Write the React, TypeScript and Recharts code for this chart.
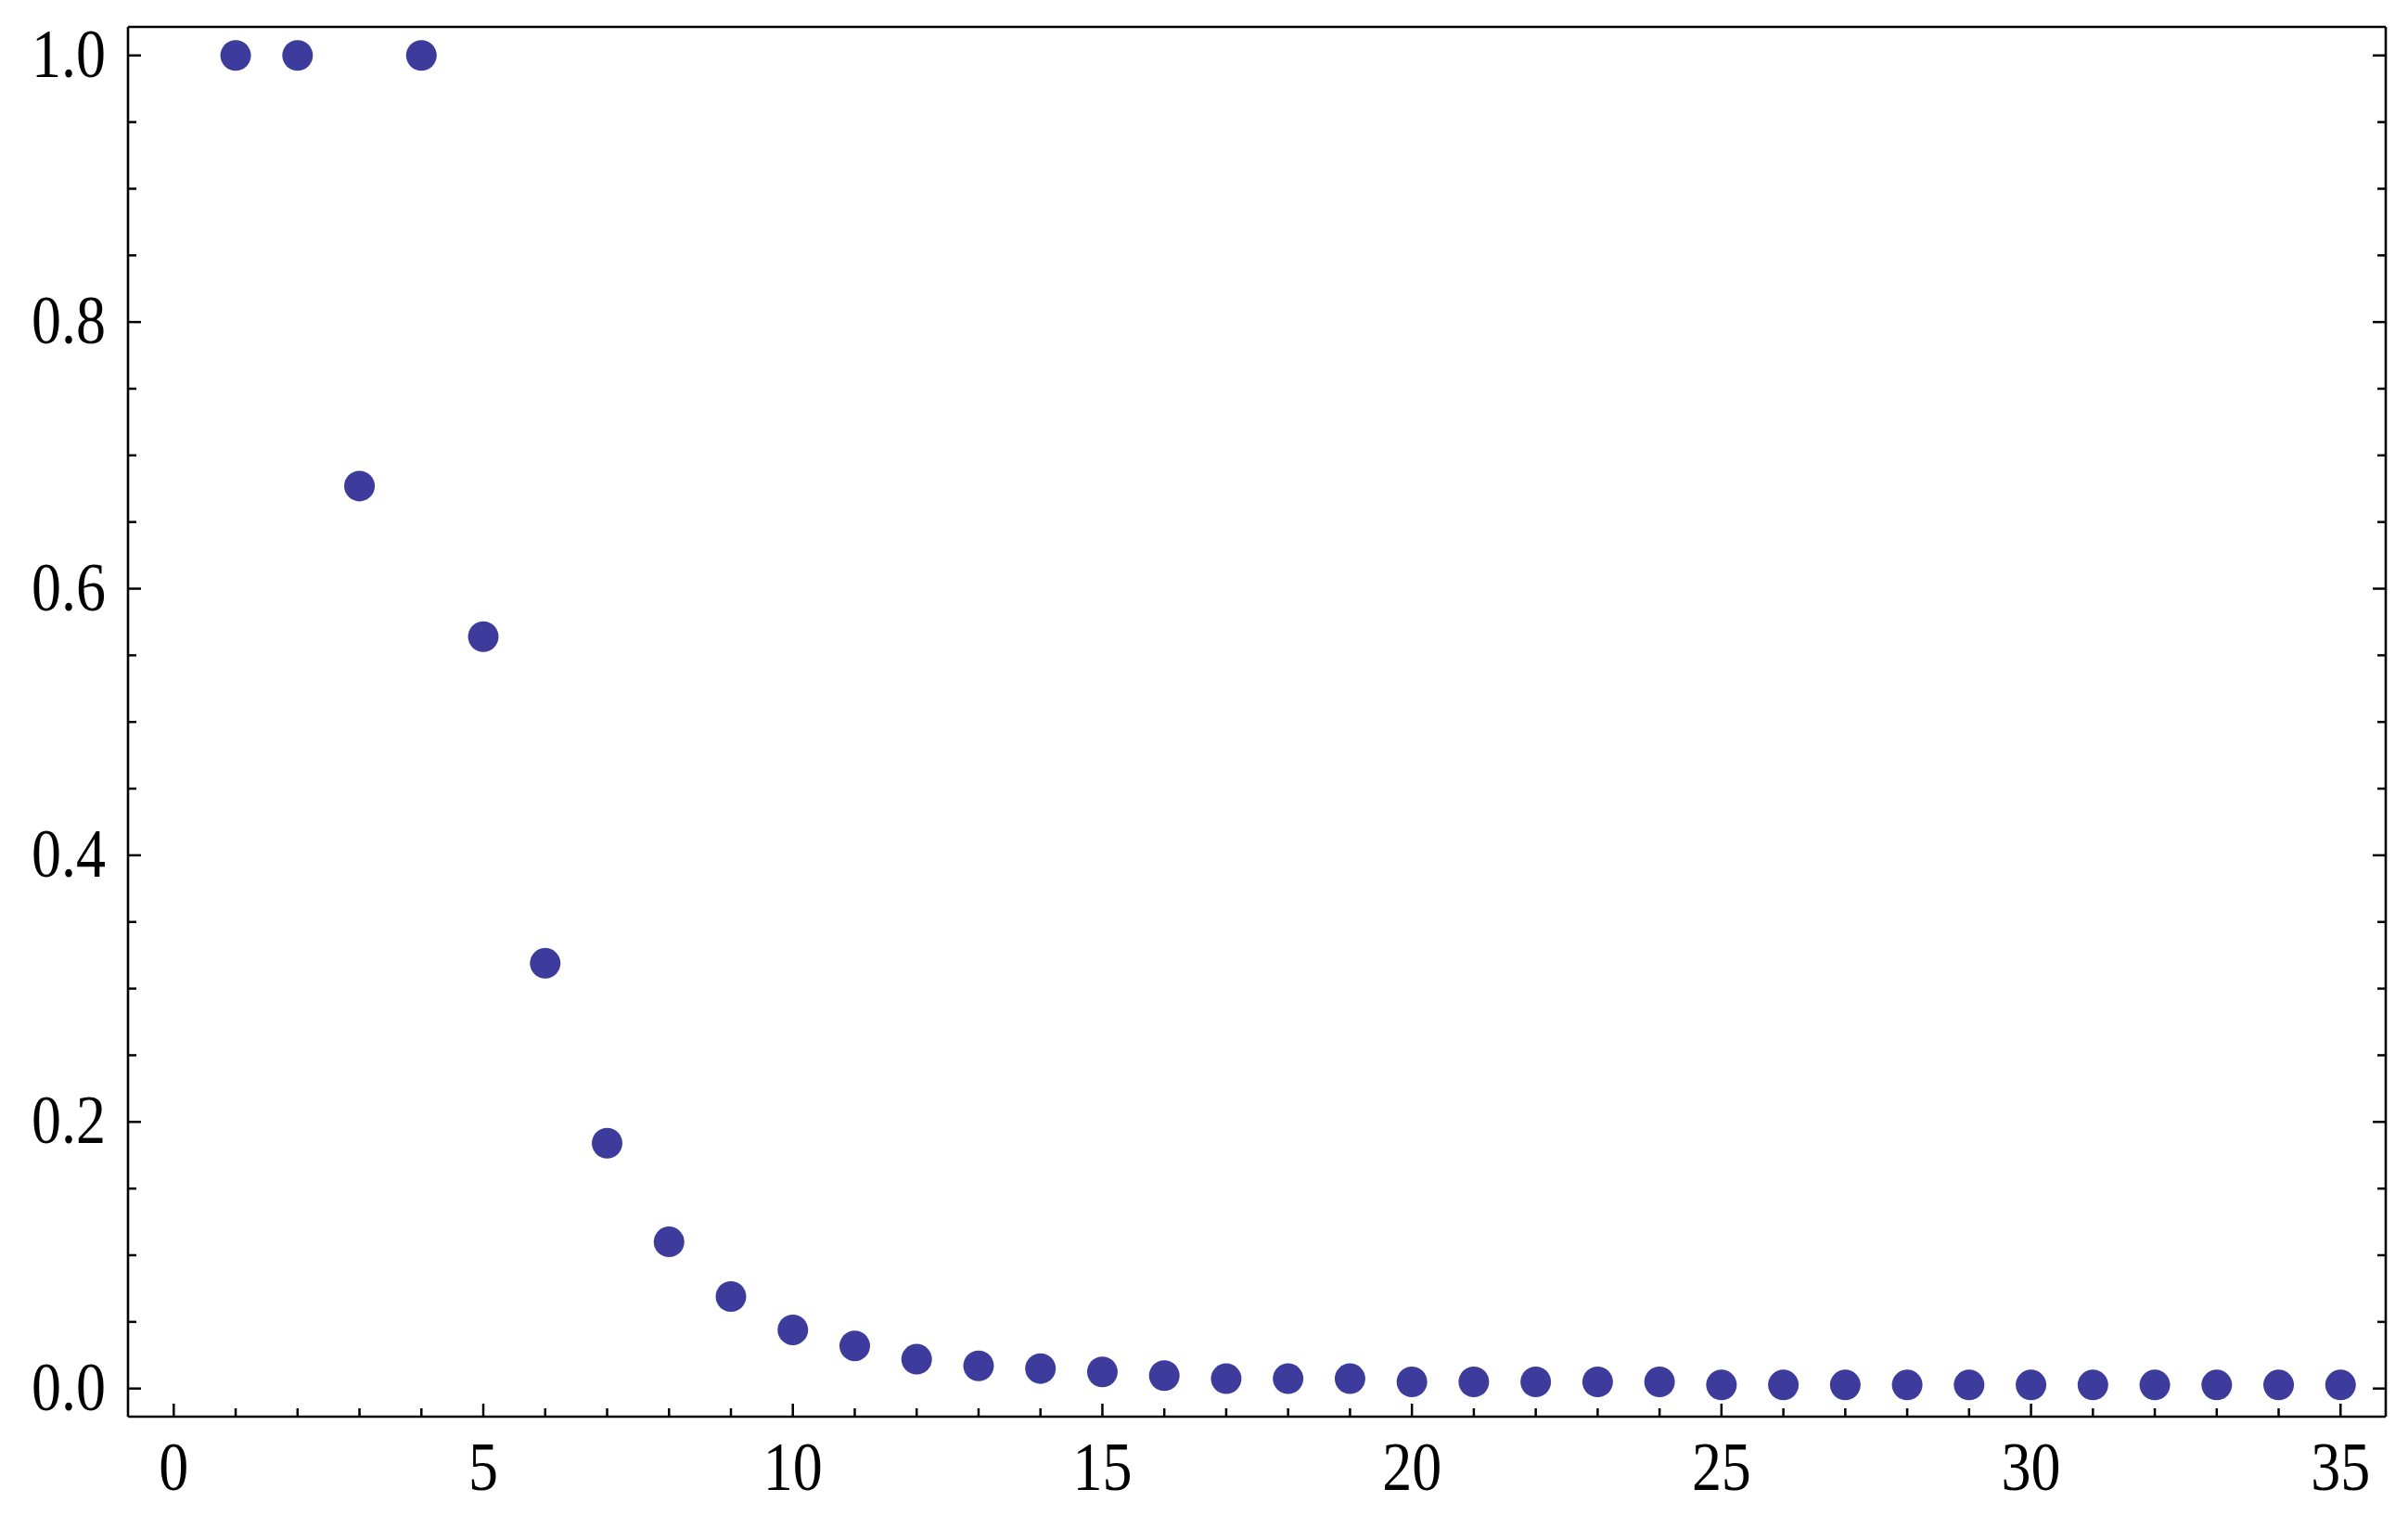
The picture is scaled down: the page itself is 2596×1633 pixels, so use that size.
import {Scatter, ScatterChart, XAxis, YAxis} from 'recharts'

const steps = [1, 2, 3, 4, 5, 6, 7, 8, 9, 10, 11, 12, 13, 14, 15, 16, 17, 18, 19, 20, 21, 22, 23, 24, 25, 26, 27, 28, 29, 30, 31, 32, 33, 34, 35]
const values = [
    1.0, 1.0, 0.677, 1.0, 0.564, 0.319, 0.184, 0.11, 0.069, 0.044,
    0.032, 0.022, 0.017, 0.015, 0.0125, 0.0097, 0.0074, 0.0074, 0.0074, 0.005,
    0.005, 0.005, 0.005, 0.005, 0.0027, 0.0027, 0.0027, 0.0027, 0.0027, 0.0027,
    0.0027, 0.0027, 0.0027, 0.0027, 0.0027,
]
const xTicks = [0, 1, 2, 3, 4, 5, 6, 7, 8, 9, 10, 11, 12, 13, 14, 15, 16, 17, 18, 19, 20, 21, 22, 23, 24, 25, 26, 27, 28, 29, 30, 31, 32, 33, 34, 35]
const yTicks = [0, 0.05, 0.1, 0.15, 0.2, 0.25, 0.3, 0.35, 0.4, 0.45, 0.5, 0.55, 0.6, 0.65, 0.7, 0.75, 0.8, 0.85, 0.9, 0.95, 1.0]

const xDomain: [number, number] = [-0.739, 35.73]
const yDomain: [number, number] = [-0.0211, 1.0214]

const data = steps.map((step, i) => ({x: step, y: values[i]}))

const dotColor = '#3d3b9c'
const font = 'Liberation Serif, Times New Roman, Times, serif'
const fontSize = 64
// the reference glyphs are drawn a little taller than a plain Times face
const stretch = 1.14
const majorLen = 14
const minorLen = 9
const tickWidth = 2.5
const frame = {stroke: '#000', strokeWidth: 2.6}

const isMajorX = (v: number) => v % 5 === 0
const isMajorY = (v: number) => Math.round(v * 100) % 20 === 0

const labelStyle = {fontFamily: font, fontSize}

function Label({x, y, anchor, children}: any) {
    return (
        <text transform={`translate(${x},${y}) scale(1,${stretch})`} x={0} y={0} textAnchor={anchor} style={labelStyle} fill="#000">
            {children}
        </text>
    )
}

function BottomTick({x, y, payload}: any) {
    const len = isMajorX(payload.value) ? majorLen : minorLen
    return (
        <g>
            <line x1={x} x2={x} y1={y} y2={y - len} stroke="#000" strokeWidth={tickWidth}/>
            {isMajorX(payload.value) ? <Label x={x} y={y + 79} anchor="middle">{payload.value}</Label> : null}
        </g>
    )
}

function TopTick({x, y, payload}: any) {
    const len = isMajorX(payload.value) ? majorLen : minorLen
    return <line x1={x} x2={x} y1={y} y2={y + len} stroke="#000" strokeWidth={tickWidth}/>
}

function LeftTick({x, y, payload}: any) {
    const major = isMajorY(payload.value)
    return (
        <g>
            <line x1={x} x2={x + (major ? majorLen : minorLen)} y1={y} y2={y} stroke="#000" strokeWidth={tickWidth}/>
            {major ? <Label x={x - 24} y={y + 23} anchor="end">{payload.value.toFixed(1)}</Label> : null}
        </g>
    )
}

function RightTick({x, y, payload}: any) {
    const len = isMajorY(payload.value) ? majorLen : minorLen
    return <line x1={x} x2={x - len} y1={y} y2={y} stroke="#000" strokeWidth={tickWidth}/>
}

function Dot({cx, cy}: any) {
    return <circle cx={cx} cy={cy} r={16.5} fill={dotColor}/>
}

export default function App() {
    return (
        <div style={{position: 'absolute', left: 0, top: 0, background: '#fff'}}>
            <ScatterChart width={2596} height={1633} margin={{top: 0, right: 0, bottom: 0, left: 0}}>
                <XAxis
                    xAxisId="b"
                    type="number"
                    dataKey="x"
                    orientation="bottom"
                    domain={xDomain}
                    allowDataOverflow
                    ticks={xTicks}
                    interval={0}
                    height={106}
                    tickSize={0}
                    tickMargin={0}
                    tickLine={false}
                    axisLine={frame}
                    tick={<BottomTick/>}
                />
                <XAxis
                    xAxisId="t"
                    type="number"
                    orientation="top"
                    domain={xDomain}
                    allowDataOverflow
                    ticks={xTicks}
                    interval={0}
                    height={29}
                    tickSize={0}
                    tickMargin={0}
                    tickLine={false}
                    axisLine={frame}
                    tick={<TopTick/>}
                />
                <YAxis
                    yAxisId="l"
                    type="number"
                    dataKey="y"
                    orientation="left"
                    domain={yDomain}
                    allowDataOverflow
                    ticks={yTicks}
                    interval={0}
                    width={138}
                    tickSize={0}
                    tickMargin={0}
                    tickLine={false}
                    axisLine={frame}
                    tick={<LeftTick/>}
                />
                <YAxis
                    yAxisId="r"
                    type="number"
                    orientation="right"
                    domain={yDomain}
                    allowDataOverflow
                    ticks={yTicks}
                    interval={0}
                    width={24}
                    tickSize={0}
                    tickMargin={0}
                    tickLine={false}
                    axisLine={frame}
                    tick={<RightTick/>}
                />
                <Scatter
                    xAxisId="b"
                    yAxisId="l"
                    data={data}
                    fill={dotColor}
                    shape={<Dot/>}
                    isAnimationActive={false}
                />
            </ScatterChart>
        </div>
    )
}
